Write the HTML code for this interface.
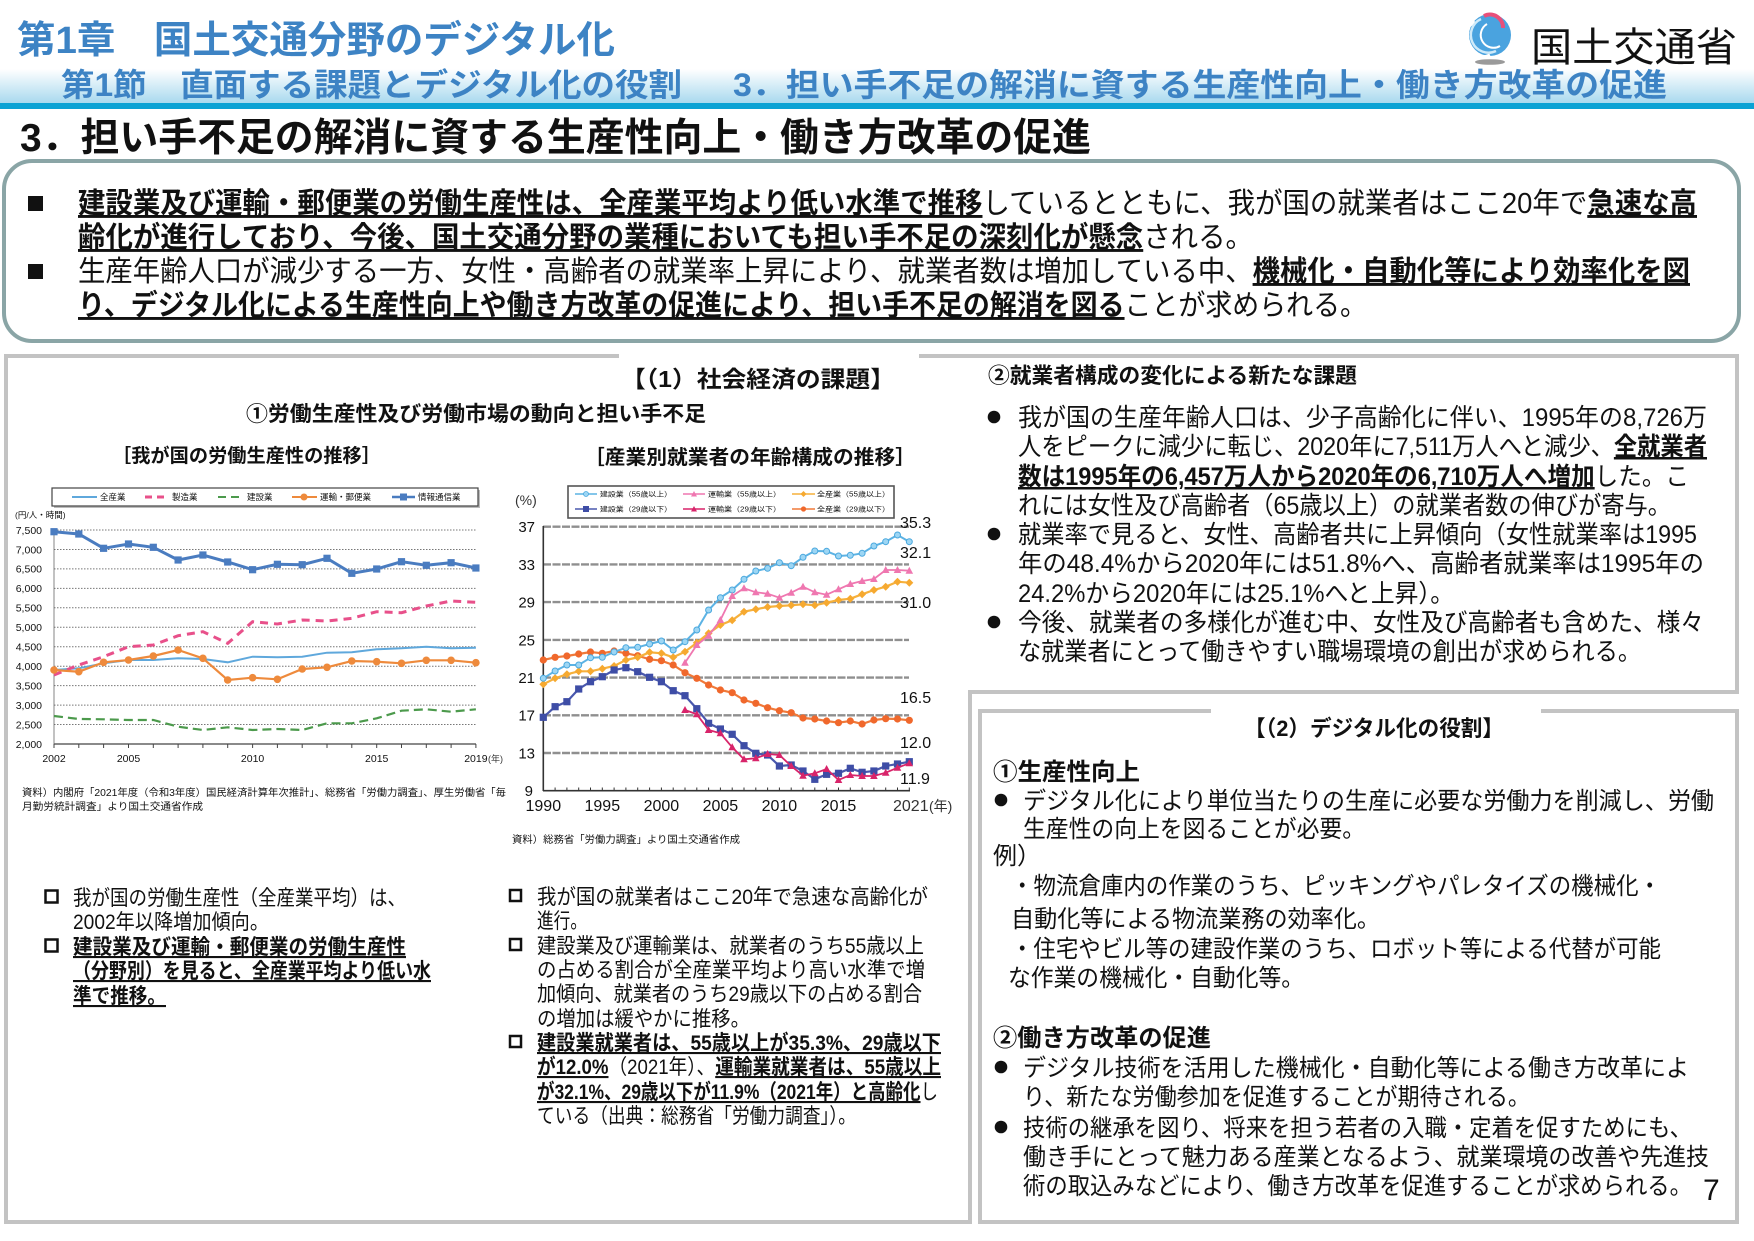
<!DOCTYPE html>
<html><head><meta charset="utf-8">
<style>
html,body{margin:0;padding:0;background:#fff;}
svg{display:block;}
text{font-family:"Liberation Sans","Noto Sans CJK JP",sans-serif;fill:#111;}
.b{font-weight:bold;}
.bu{font-weight:bold;text-decoration:underline;}
.hd{fill:#3d83c4;font-weight:bold;}
.ax{fill:#333;}
</style></head>
<body>
<svg width="1754" height="1241" viewBox="0 0 1754 1241" xmlns="http://www.w3.org/2000/svg">
<defs>
<linearGradient id="band" x1="0" y1="0" x2="0" y2="1">
<stop offset="0" stop-color="#ffffff"/><stop offset="1" stop-color="#a6d8ee"/>
</linearGradient>
<marker id="mSq1" viewBox="-5 -5 10 10" refX="0" refY="0" markerWidth="10" markerHeight="10" markerUnits="userSpaceOnUse"><rect x="-3.6" y="-3.6" width="7.2" height="7.2" fill="#4a7cc0"/></marker>
<marker id="mCi1" viewBox="-5 -5 10 10" refX="0" refY="0" markerWidth="10" markerHeight="10" markerUnits="userSpaceOnUse"><circle r="3.8" fill="#ee8a3c"/></marker>
<marker id="mC55" viewBox="-5 -5 10 10" refX="0" refY="0" markerWidth="10" markerHeight="10" markerUnits="userSpaceOnUse"><circle r="3" fill="#9dd6f4" stroke="#4aa8de" stroke-width="1"/></marker>
<marker id="mT55" viewBox="-5 -5 10 10" refX="0" refY="0" markerWidth="10" markerHeight="10" markerUnits="userSpaceOnUse"><path d="M0,-4 L3.8,3 L-3.8,3Z" fill="#ef77b0"/></marker>
<marker id="mA55" viewBox="-5 -5 10 10" refX="0" refY="0" markerWidth="10" markerHeight="10" markerUnits="userSpaceOnUse"><path d="M0,-4 L4,0 L0,4 L-4,0Z" fill="#f6a930"/></marker>
<marker id="mC29" viewBox="-5 -5 10 10" refX="0" refY="0" markerWidth="10" markerHeight="10" markerUnits="userSpaceOnUse"><rect x="-3.6" y="-3.6" width="7.2" height="7.2" fill="#3e4da6"/></marker>
<marker id="mT29" viewBox="-5 -5 10 10" refX="0" refY="0" markerWidth="10" markerHeight="10" markerUnits="userSpaceOnUse"><path d="M0,-4 L3.8,3 L-3.8,3Z" fill="#d8246a"/></marker>
<marker id="mA29" viewBox="-5 -5 10 10" refX="0" refY="0" markerWidth="10" markerHeight="10" markerUnits="userSpaceOnUse"><circle r="3.6" fill="#f0682c"/></marker>
</defs>

<!-- HEADER -->
<text x="17" y="53" font-size="38" class="hd" textLength="598" lengthAdjust="spacingAndGlyphs">第1章　国土交通分野のデジタル化</text>
<rect x="0" y="69" width="1754" height="35" fill="url(#band)"/>
<rect x="0" y="103" width="1754" height="6" fill="#0aa2d4"/>
<text x="61" y="96" font-size="32" class="hd" textLength="621" lengthAdjust="spacingAndGlyphs">第1節　直面する課題とデジタル化の役割</text>
<text x="733" y="96" font-size="32" class="hd" textLength="934" lengthAdjust="spacingAndGlyphs">3．担い手不足の解消に資する生産性向上・働き方改革の促進</text>

<!-- logo -->
<circle cx="1490" cy="35" r="21" fill="#4aa3df"/>
<path d="M1475,22 A18,18 0 0 0 1490,55" stroke="#ffffff" stroke-width="3" fill="none"/>
<path d="M1481,19 A15,15 0 0 0 1496,51" stroke="#cfeaf9" stroke-width="2.5" fill="none"/>
<path d="M1487,24 A10,10 0 0 0 1500,46" stroke="#ffffff" stroke-width="2" fill="none"/>
<path d="M1484,16 A13,13 0 0 1 1503,28" stroke="#e8507a" stroke-width="4" fill="none"/>
<ellipse cx="1490" cy="62" rx="15" ry="2.8" fill="#9a9a9a"/>
<text x="1531" y="61" font-size="40" textLength="206" lengthAdjust="spacingAndGlyphs" fill="#222">国土交通省</text>

<text x="20" y="151" font-size="39" class="b" textLength="1071" lengthAdjust="spacingAndGlyphs">3．担い手不足の解消に資する生産性向上・働き方改革の促進</text>

<!-- TOP BOX -->
<rect x="4" y="161" width="1735" height="180" rx="28" ry="28" fill="#fff" stroke="#8aa5a6" stroke-width="4"/>
<rect x="28" y="196" width="15" height="15" fill="#111"/>
<rect x="28" y="264" width="15" height="15" fill="#111"/>
<text x="78" y="213" font-size="29" textLength="1619" lengthAdjust="spacingAndGlyphs"><tspan class="bu">建設業及び運輸・郵便業の労働生産性は、全産業平均より低い水準で推移</tspan>しているとともに、我が国の就業者はここ20年で<tspan class="bu">急速な高</tspan></text>
<text x="78" y="247" font-size="29" textLength="1175" lengthAdjust="spacingAndGlyphs"><tspan class="bu">齢化が進行しており、今後、国土交通分野の業種においても担い手不足の深刻化が懸念</tspan>される。</text>
<text x="78" y="281" font-size="29" textLength="1612" lengthAdjust="spacingAndGlyphs">生産年齢人口が減少する一方、女性・高齢者の就業率上昇により、就業者数は増加している中、<tspan class="bu">機械化・自動化等により効率化を図</tspan></text>
<text x="78" y="315" font-size="29" textLength="1289" lengthAdjust="spacingAndGlyphs"><tspan class="bu">り、デジタル化による生産性向上や働き方改革の促進により、担い手不足の解消を図る</tspan>ことが求められる。</text>

<!-- PANEL BORDERS -->
<path d="M619,356 H6 V1222 H970 V692 H1737 V356 H919" fill="none" stroke="#c3c3c3" stroke-width="4"/>
<path d="M1211,711 H980 V1222 H1737 V711 H1541" fill="none" stroke="#c3c3c3" stroke-width="4"/>

<text x="621" y="387" font-size="23" class="b" textLength="274" lengthAdjust="spacingAndGlyphs">【（1）社会経済の課題】</text>
<text x="246" y="421" font-size="21" class="b" textLength="460" lengthAdjust="spacingAndGlyphs">①労働生産性及び労働市場の動向と担い手不足</text>
<text x="112" y="462" font-size="19" class="b" textLength="269" lengthAdjust="spacingAndGlyphs">［我が国の労働生産性の推移］</text>
<text x="584" y="464" font-size="20" class="b" textLength="332" lengthAdjust="spacingAndGlyphs">［産業別就業者の年齢構成の推移］</text>

<!-- CHART 1 -->
<rect x="54" y="490" width="426" height="18" fill="#bbb"/>
<rect x="52" y="488" width="426" height="18" fill="#fff" stroke="#444" stroke-width="1.2"/>
<line x1="72" y1="497" x2="97" y2="497" stroke="#5fa8dc" stroke-width="2"/>
<text x="100" y="500" font-size="8.5" fill="#444">全産業</text>
<line x1="145" y1="497" x2="168" y2="497" stroke="#e8508a" stroke-width="3" stroke-dasharray="7,5"/>
<text x="172" y="500" font-size="8.5" fill="#444">製造業</text>
<line x1="218" y1="497" x2="243" y2="497" stroke="#4c9a4c" stroke-width="2" stroke-dasharray="8,5"/>
<text x="247" y="500" font-size="8.5" fill="#444">建設業</text>
<line x1="292" y1="497" x2="317" y2="497" stroke="#ee8a3c" stroke-width="2"/>
<circle cx="304" cy="497" r="3.5" fill="#ee8a3c"/>
<text x="320" y="500" font-size="8.5" fill="#444">運輸・郵便業</text>
<line x1="392" y1="497" x2="415" y2="497" stroke="#4a7cc0" stroke-width="2.5"/>
<rect x="400" y="493.5" width="7" height="7" fill="#4a7cc0"/>
<text x="418" y="500" font-size="8.5" fill="#444">情報通信業</text>

<text x="15" y="518" font-size="8.5" fill="#444">(円/人・時間)</text>
<g stroke="#777" stroke-width="1" stroke-dasharray="1.5,1.5">
<line x1="54" y1="530" x2="476" y2="530"/><line x1="54" y1="549.5" x2="476" y2="549.5"/>
<line x1="54" y1="568.9" x2="476" y2="568.9"/><line x1="54" y1="588.4" x2="476" y2="588.4"/>
<line x1="54" y1="607.8" x2="476" y2="607.8"/><line x1="54" y1="627.3" x2="476" y2="627.3"/>
<line x1="54" y1="646.7" x2="476" y2="646.7"/><line x1="54" y1="666.2" x2="476" y2="666.2"/>
<line x1="54" y1="685.6" x2="476" y2="685.6"/><line x1="54" y1="705.1" x2="476" y2="705.1"/>
<line x1="54" y1="724.5" x2="476" y2="724.5"/>
</g>
<line x1="54" y1="744" x2="476" y2="744" stroke="#444" stroke-width="1.2"/>
<line x1="54" y1="530" x2="54" y2="744" stroke="#666" stroke-width="0.8"/>
<g stroke="#444" stroke-width="1">
<line x1="54" y1="744" x2="54" y2="748"/><line x1="78.8" y1="744" x2="78.8" y2="748"/><line x1="103.6" y1="744" x2="103.6" y2="748"/><line x1="128.5" y1="744" x2="128.5" y2="748"/><line x1="153.3" y1="744" x2="153.3" y2="748"/><line x1="178.1" y1="744" x2="178.1" y2="748"/><line x1="202.9" y1="744" x2="202.9" y2="748"/><line x1="227.7" y1="744" x2="227.7" y2="748"/><line x1="252.6" y1="744" x2="252.6" y2="748"/><line x1="277.4" y1="744" x2="277.4" y2="748"/><line x1="302.2" y1="744" x2="302.2" y2="748"/><line x1="327" y1="744" x2="327" y2="748"/><line x1="351.8" y1="744" x2="351.8" y2="748"/><line x1="376.7" y1="744" x2="376.7" y2="748"/><line x1="401.5" y1="744" x2="401.5" y2="748"/><line x1="426.3" y1="744" x2="426.3" y2="748"/><line x1="451.1" y1="744" x2="451.1" y2="748"/><line x1="475.9" y1="744" x2="475.9" y2="748"/>
</g>
<g font-size="10.5" text-anchor="end" class="ax">
<text x="42" y="534">7,500</text><text x="42" y="553.3">7,000</text><text x="42" y="572.7">6,500</text><text x="42" y="592.2">6,000</text><text x="42" y="611.6">5,500</text><text x="42" y="631.1">5,000</text><text x="42" y="650.5">4,500</text><text x="42" y="670">4,000</text><text x="42" y="689.4">3,500</text><text x="42" y="708.9">3,000</text><text x="42" y="728.3">2,500</text><text x="42" y="747.8">2,000</text>
</g>
<g font-size="10.5" text-anchor="middle" class="ax">
<text x="54" y="762">2002</text><text x="128.5" y="762">2005</text><text x="252.6" y="762">2010</text><text x="376.7" y="762">2015</text><text x="475.9" y="762">2019</text>
</g>
<text x="488" y="762" font-size="9" class="ax">(年)</text>

<polyline fill="none" stroke="#4c9a4c" stroke-width="2.2" stroke-dasharray="9,5" points="54,716 78.8,719 103.6,719.3 128.5,720 153.3,720 178.1,726.7 202.9,730 227.7,727.3 252.6,730 277.4,729 302.2,730 327,723.3 351.8,723.3 376.7,718.3 401.5,710.7 426.3,709.3 451.1,711.7 475.9,709.3"/>
<polyline fill="none" stroke="#5fa8dc" stroke-width="2" points="54,670 78.8,668.3 103.6,663.3 128.5,660 153.3,660 178.1,658.3 202.9,659 227.7,662.3 252.6,656.7 277.4,657.3 302.2,656.7 327,652.7 351.8,652.3 376.7,649.3 401.5,648.3 426.3,646.7 451.1,648.3 475.9,647.7"/>
<polyline fill="none" stroke="#e8508a" stroke-width="3" stroke-dasharray="8,6" points="54,675 78.8,665 103.6,656.7 128.5,646.7 153.3,645 178.1,635.7 202.9,631.7 227.7,643.3 252.6,621.7 277.4,624 302.2,620 327,621 351.8,618.3 376.7,611.7 401.5,612.7 426.3,606 451.1,601 475.9,602.3"/>
<polyline fill="none" stroke="#ee8a3c" stroke-width="2.2" marker-start="url(#mCi1)" marker-mid="url(#mCi1)" marker-end="url(#mCi1)" points="54,670 78.8,671.7 103.6,662.3 128.5,660 153.3,656 178.1,650 202.9,658.3 227.7,680 252.6,677.7 277.4,679.3 302.2,669 327,667.3 351.8,661 376.7,661.7 401.5,663.3 426.3,660.3 451.1,660.3 475.9,662.7"/>
<polyline fill="none" stroke="#4a7cc0" stroke-width="3" marker-start="url(#mSq1)" marker-mid="url(#mSq1)" marker-end="url(#mSq1)" points="54,531.7 78.8,534 103.6,548.3 128.5,544 153.3,547.3 178.1,560 202.9,555 227.7,562 252.6,569.7 277.4,564.3 302.2,564.7 327,558.3 351.8,573.3 376.7,569 401.5,561.7 426.3,565.3 451.1,562.7 475.9,568"/>

<text x="22" y="796" font-size="10" fill="#333" textLength="484" lengthAdjust="spacingAndGlyphs">資料）内閣府「2021年度（令和3年度）国民経済計算年次推計」、総務省「労働力調査」、厚生労働省「毎</text>
<text x="22" y="810" font-size="10" fill="#333" textLength="181" lengthAdjust="spacingAndGlyphs">月勤労統計調査」より国土交通省作成</text>

<!-- CHART 2 -->
<rect x="568" y="486" width="326" height="32" fill="#fff" stroke="#555" stroke-width="1.6"/>
<g font-size="7" fill="#555">
<line x1="575" y1="494" x2="597" y2="494" stroke="#5cb3e4" stroke-width="1.5"/><circle cx="586" cy="494" r="2.5" fill="#9dd6f4" stroke="#4aa8de" stroke-width="0.8"/>
<text x="600" y="496.5" textLength="72" lengthAdjust="spacingAndGlyphs">建設業（55歳以上）</text>
<line x1="683" y1="494" x2="705" y2="494" stroke="#ef77b0" stroke-width="1.5"/><path d="M694,491 L697,496.5 L691,496.5Z" fill="#ef77b0"/>
<text x="708" y="496.5" textLength="73" lengthAdjust="spacingAndGlyphs">運輸業（55歳以上）</text>
<line x1="792" y1="494" x2="815" y2="494" stroke="#f6b13c" stroke-width="1.5"/><path d="M803.5,491 L806.5,494 L803.5,497 L800.5,494Z" fill="#f6a930"/>
<text x="817" y="496.5" textLength="73" lengthAdjust="spacingAndGlyphs">全産業（55歳以上）</text>
<line x1="575" y1="509" x2="597" y2="509" stroke="#4a58ad" stroke-width="1.5"/><rect x="583" y="506" width="6" height="6" fill="#3e4da6"/>
<text x="600" y="511.5" textLength="72" lengthAdjust="spacingAndGlyphs">建設業（29歳以下）</text>
<line x1="683" y1="509" x2="705" y2="509" stroke="#d8246a" stroke-width="1.5"/><path d="M694,506 L697,511.5 L691,511.5Z" fill="#d8246a"/>
<text x="708" y="511.5" textLength="73" lengthAdjust="spacingAndGlyphs">運輸業（29歳以下）</text>
<line x1="792" y1="509" x2="815" y2="509" stroke="#f07a3a" stroke-width="1.5"/><circle cx="803.5" cy="509" r="2.6" fill="#f0682c"/>
<text x="817" y="511.5" textLength="73" lengthAdjust="spacingAndGlyphs">全産業（29歳以下）</text>
</g>

<text x="515" y="505" font-size="14" class="ax">(%)</text>
<g stroke="#8f8f8f" stroke-width="2.4" stroke-dasharray="8,1.5">
<line x1="543" y1="526.7" x2="909" y2="526.7"/><line x1="543" y1="564.4" x2="909" y2="564.4"/>
<line x1="543" y1="602.1" x2="909" y2="602.1"/><line x1="543" y1="639.9" x2="909" y2="639.9"/>
<line x1="543" y1="677.6" x2="909" y2="677.6"/><line x1="543" y1="715.3" x2="909" y2="715.3"/>
<line x1="543" y1="753" x2="909" y2="753"/>
</g>
<line x1="543" y1="790.7" x2="910" y2="790.7" stroke="#333" stroke-width="1.6"/>
<line x1="543.3" y1="526" x2="543.3" y2="791" stroke="#333" stroke-width="1.6"/>
<g stroke="#333" stroke-width="1">
<line x1="555.1" y1="787.5" x2="555.1" y2="790.7"/><line x1="566.9" y1="787.5" x2="566.9" y2="790.7"/><line x1="578.7" y1="787.5" x2="578.7" y2="790.7"/><line x1="590.5" y1="787.5" x2="590.5" y2="790.7"/><line x1="602.3" y1="787.5" x2="602.3" y2="790.7"/><line x1="614.1" y1="787.5" x2="614.1" y2="790.7"/><line x1="625.9" y1="787.5" x2="625.9" y2="790.7"/><line x1="637.7" y1="787.5" x2="637.7" y2="790.7"/><line x1="649.6" y1="787.5" x2="649.6" y2="790.7"/><line x1="661.4" y1="787.5" x2="661.4" y2="790.7"/><line x1="673.2" y1="787.5" x2="673.2" y2="790.7"/><line x1="685" y1="787.5" x2="685" y2="790.7"/><line x1="696.8" y1="787.5" x2="696.8" y2="790.7"/><line x1="708.6" y1="787.5" x2="708.6" y2="790.7"/><line x1="720.4" y1="787.5" x2="720.4" y2="790.7"/><line x1="732.2" y1="787.5" x2="732.2" y2="790.7"/><line x1="744" y1="787.5" x2="744" y2="790.7"/><line x1="755.8" y1="787.5" x2="755.8" y2="790.7"/><line x1="767.6" y1="787.5" x2="767.6" y2="790.7"/><line x1="779.4" y1="787.5" x2="779.4" y2="790.7"/><line x1="791.2" y1="787.5" x2="791.2" y2="790.7"/><line x1="803" y1="787.5" x2="803" y2="790.7"/><line x1="814.8" y1="787.5" x2="814.8" y2="790.7"/><line x1="826.6" y1="787.5" x2="826.6" y2="790.7"/><line x1="838.5" y1="787.5" x2="838.5" y2="790.7"/><line x1="850.3" y1="787.5" x2="850.3" y2="790.7"/><line x1="862.1" y1="787.5" x2="862.1" y2="790.7"/><line x1="873.9" y1="787.5" x2="873.9" y2="790.7"/><line x1="885.7" y1="787.5" x2="885.7" y2="790.7"/><line x1="897.5" y1="787.5" x2="897.5" y2="790.7"/><line x1="909.3" y1="787.5" x2="909.3" y2="790.7"/>
</g>
<g font-size="15" text-anchor="end" class="ax">
<text x="535" y="532">37</text><text x="535" y="569.8">33</text><text x="535" y="607.5">29</text><text x="535" y="645.3">25</text><text x="535" y="683">21</text><text x="535" y="720.7">17</text><text x="535" y="758.4">13</text><text x="533" y="796">9</text>
</g>
<g font-size="16" text-anchor="middle" class="ax">
<text x="543.3" y="811">1990</text><text x="602.3" y="811">1995</text><text x="661.4" y="811">2000</text><text x="720.4" y="811">2005</text><text x="779.4" y="811">2010</text><text x="838.5" y="811">2015</text>
</g>
<text x="893" y="811" font-size="16" class="ax">2021</text>
<text x="929" y="811" font-size="14" class="ax">(年)</text>
<g font-size="16" class="ax">
<text x="900" y="528">35.3</text><text x="900" y="558">32.1</text><text x="900" y="608">31.0</text><text x="900" y="703">16.5</text><text x="900" y="748">12.0</text><text x="900" y="784">11.9</text>
</g>

<polyline fill="none" stroke="#f07a3a" stroke-width="2.2" marker-start="url(#mA29)" marker-mid="url(#mA29)" marker-end="url(#mA29)" points="543.3,660 555.1,657.3 566.9,656 578.7,654 590.5,652 602.3,653.3 614.1,651 625.9,653.3 637.7,655.7 649.6,659.3 661.4,660.7 673.2,665 685,672.7 696.8,678.3 708.6,685 720.4,690 732.2,692.7 744,700 755.8,703.3 767.6,707.7 779.4,710.7 791.2,712.7 803,718 814.8,719 826.6,721 838.5,722.7 850.3,721 862.1,724 873.9,720 885.7,718.7 897.5,719 909.3,720.3"/>
<polyline fill="none" stroke="#f6b13c" stroke-width="2.2" marker-start="url(#mA55)" marker-mid="url(#mA55)" marker-end="url(#mA55)" points="543.3,684.3 555.1,678.3 566.9,674.3 578.7,671.3 590.5,671.3 602.3,668.7 614.1,666 625.9,660 637.7,657.3 649.6,652.3 661.4,653.3 673.2,657.3 685,651.7 696.8,642.7 708.6,633.3 720.4,625 732.2,620.3 744,611.7 755.8,609.3 767.6,607 779.4,606 791.2,605.3 803,604.3 814.8,605.3 826.6,602.7 838.5,600 850.3,598.7 862.1,594.3 873.9,590 885.7,586.7 897.5,581.7 909.3,582.7"/>
<polyline fill="none" stroke="#4a58ad" stroke-width="2.2" marker-start="url(#mC29)" marker-mid="url(#mC29)" marker-end="url(#mC29)" points="543.3,717.3 555.1,706.7 566.9,701.7 578.7,689 590.5,681.7 602.3,676.7 614.1,670 625.9,667.7 637.7,671.7 649.6,677.3 661.4,681.7 673.2,690.7 685,695.7 696.8,708.7 708.6,723.3 720.4,729 732.2,734.3 744,745.7 755.8,753.3 767.6,755 779.4,766 791.2,765 803,771 814.8,779.3 826.6,774.3 838.5,773.3 850.3,768.3 862.1,772.3 873.9,771 885.7,766 897.5,764 909.3,761.7"/>
<polyline fill="none" stroke="#d8246a" stroke-width="1.8" marker-start="url(#mT29)" marker-mid="url(#mT29)" marker-end="url(#mT29)" points="685,710 696.8,714.3 708.6,730 720.4,733.3 732.2,747.3 744,759.3 755.8,758.3 767.6,754 779.4,755 791.2,766 803,775.7 814.8,773.3 826.6,769 838.5,780 850.3,775 862.1,776 873.9,776 885.7,772.7 897.5,767.7 909.3,763.3"/>
<polyline fill="none" stroke="#5cb3e4" stroke-width="2" marker-start="url(#mC55)" marker-mid="url(#mC55)" marker-end="url(#mC55)" points="543.3,678.3 555.1,671 566.9,665 578.7,665 590.5,657.7 602.3,657.3 614.1,652 625.9,647.7 637.7,647.3 649.6,644 661.4,641 673.2,650 685,641.7 696.8,630 708.6,610 720.4,597.7 732.2,590 744,579.3 755.8,571 767.6,568.3 779.4,562.7 791.2,565.7 803,557.3 814.8,551 826.6,551.3 838.5,556 850.3,555.3 862.1,553.3 873.9,546 885.7,541.7 897.5,535 909.3,541.7"/>
<polyline fill="none" stroke="#ef77b0" stroke-width="1.8" marker-start="url(#mT55)" marker-mid="url(#mT55)" marker-end="url(#mT55)" points="685,662.7 696.8,645 708.6,635.7 720.4,620 732.2,596 744,588.3 755.8,592.3 767.6,593.7 779.4,597.7 791.2,592.7 803,586.7 814.8,592.3 826.6,594.7 838.5,589.3 850.3,584 862.1,581 873.9,579 885.7,570 897.5,570 909.3,570.7"/>

<text x="512" y="843" font-size="10" fill="#333" textLength="228" lengthAdjust="spacingAndGlyphs">資料）総務省「労働力調査」より国土交通省作成</text>

<!-- LEFT BOTTOM TEXT -->
<rect x="45.5" y="890.5" width="12" height="12" fill="none" stroke="#111" stroke-width="2.5"/>
<rect x="45.5" y="939.5" width="12" height="12" fill="none" stroke="#111" stroke-width="2.5"/>
<text x="73" y="905" font-size="21" textLength="333" lengthAdjust="spacingAndGlyphs">我が国の労働生産性（全産業平均）は、</text>
<text x="73" y="929" font-size="21" textLength="196" lengthAdjust="spacingAndGlyphs">2002年以降増加傾向。</text>
<text x="73" y="954" font-size="21" textLength="333" lengthAdjust="spacingAndGlyphs"><tspan class="bu">建設業及び運輸・郵便業の労働生産性</tspan></text>
<text x="73" y="978" font-size="21" textLength="358" lengthAdjust="spacingAndGlyphs"><tspan class="bu">（分野別）を見ると、全産業平均より低い水</tspan></text>
<text x="73" y="1003" font-size="21" textLength="93" lengthAdjust="spacingAndGlyphs"><tspan class="bu">準で推移。</tspan></text>

<rect x="510" y="890" width="11" height="11" fill="none" stroke="#111" stroke-width="2.5"/>
<rect x="510" y="939" width="11" height="11" fill="none" stroke="#111" stroke-width="2.5"/>
<rect x="510" y="1036" width="11" height="11" fill="none" stroke="#111" stroke-width="2.5"/>
<text x="537" y="904" font-size="21" textLength="391" lengthAdjust="spacingAndGlyphs">我が国の就業者はここ20年で急速な高齢化が</text>
<text x="537" y="928" font-size="21" textLength="50" lengthAdjust="spacingAndGlyphs">進行。</text>
<text x="537" y="953" font-size="21" textLength="387" lengthAdjust="spacingAndGlyphs">建設業及び運輸業は、就業者のうち55歳以上</text>
<text x="537" y="977" font-size="21" textLength="388" lengthAdjust="spacingAndGlyphs">の占める割合が全産業平均より高い水準で増</text>
<text x="537" y="1001" font-size="21" textLength="385" lengthAdjust="spacingAndGlyphs">加傾向、就業者のうち29歳以下の占める割合</text>
<text x="537" y="1026" font-size="21" textLength="213" lengthAdjust="spacingAndGlyphs">の増加は緩やかに推移。</text>
<text x="537" y="1050" font-size="21" textLength="404" lengthAdjust="spacingAndGlyphs"><tspan class="bu">建設業就業者は、55歳以上が35.3%、29歳以下</tspan></text>
<text x="537" y="1074" font-size="21" textLength="404" lengthAdjust="spacingAndGlyphs"><tspan class="bu">が12.0%</tspan>（2021年）、<tspan class="bu">運輸業就業者は、55歳以上</tspan></text>
<text x="537" y="1099" font-size="21" textLength="401" lengthAdjust="spacingAndGlyphs"><tspan class="bu">が32.1%、29歳以下が11.9%（2021年）と高齢化</tspan>し</text>
<text x="537" y="1123" font-size="21" textLength="319" lengthAdjust="spacingAndGlyphs">ている（出典：総務省「労働力調査」）。</text>

<!-- RIGHT UPPER -->
<text x="988" y="383" font-size="21.5" class="b" textLength="369" lengthAdjust="spacingAndGlyphs">②就業者構成の変化による新たな課題</text>
<circle cx="994" cy="417" r="6.3" fill="#111"/>
<circle cx="994" cy="534" r="6.3" fill="#111"/>
<circle cx="994" cy="622" r="6.3" fill="#111"/>
<text x="1018" y="426" font-size="25" textLength="689" lengthAdjust="spacingAndGlyphs">我が国の生産年齢人口は、少子高齢化に伴い、1995年の8,726万</text>
<text x="1018" y="455" font-size="25" textLength="689" lengthAdjust="spacingAndGlyphs">人をピークに減少に転じ、2020年に7,511万人へと減少、<tspan class="bu">全就業者</tspan></text>
<text x="1018" y="485" font-size="25" textLength="671" lengthAdjust="spacingAndGlyphs"><tspan class="bu">数は1995年の6,457万人から2020年の6,710万人へ増加</tspan>した。こ</text>
<text x="1018" y="514" font-size="25" textLength="653" lengthAdjust="spacingAndGlyphs">れには女性及び高齢者（65歳以上）の就業者数の伸びが寄与。</text>
<text x="1018" y="543" font-size="25" textLength="679" lengthAdjust="spacingAndGlyphs">就業率で見ると、女性、高齢者共に上昇傾向（女性就業率は1995</text>
<text x="1018" y="572" font-size="25" textLength="686" lengthAdjust="spacingAndGlyphs">年の48.4%から2020年には51.8%へ、高齢者就業率は1995年の</text>
<text x="1018" y="602" font-size="25" textLength="436" lengthAdjust="spacingAndGlyphs">24.2%から2020年には25.1%へと上昇）。</text>
<text x="1018" y="631" font-size="25" textLength="686" lengthAdjust="spacingAndGlyphs">今後、就業者の多様化が進む中、女性及び高齢者も含めた、様々</text>
<text x="1018" y="660" font-size="25" textLength="623" lengthAdjust="spacingAndGlyphs">な就業者にとって働きやすい職場環境の創出が求められる。</text>

<!-- PANEL 2 -->
<text x="1244" y="736" font-size="22" class="b" textLength="260" lengthAdjust="spacingAndGlyphs">【（2）デジタル化の役割】</text>
<text x="993" y="780" font-size="24" class="b" textLength="147" lengthAdjust="spacingAndGlyphs">①生産性向上</text>
<circle cx="1001" cy="800" r="6.3" fill="#111"/>
<text x="1023" y="809" font-size="24" textLength="691" lengthAdjust="spacingAndGlyphs">デジタル化により単位当たりの生産に必要な労働力を削減し、労働</text>
<text x="1023" y="837" font-size="24" textLength="342" lengthAdjust="spacingAndGlyphs">生産性の向上を図ることが必要。</text>
<text x="993" y="864" font-size="24">例）</text>
<text x="1011" y="894" font-size="24" textLength="650" lengthAdjust="spacingAndGlyphs">・物流倉庫内の作業のうち、ピッキングやパレタイズの機械化・</text>
<text x="1011" y="927" font-size="24" textLength="369" lengthAdjust="spacingAndGlyphs">自動化等による物流業務の効率化。</text>
<text x="1011" y="957" font-size="24" textLength="650" lengthAdjust="spacingAndGlyphs">・住宅やビル等の建設作業のうち、ロボット等による代替が可能</text>
<text x="1008" y="986" font-size="24" textLength="296" lengthAdjust="spacingAndGlyphs">な作業の機械化・自動化等。</text>
<text x="993" y="1046" font-size="24" class="b" textLength="218" lengthAdjust="spacingAndGlyphs">②働き方改革の促進</text>
<circle cx="1001" cy="1067" r="6.3" fill="#111"/>
<circle cx="1001" cy="1127" r="6.3" fill="#111"/>
<text x="1023" y="1076" font-size="24" textLength="666" lengthAdjust="spacingAndGlyphs">デジタル技術を活用した機械化・自動化等による働き方改革によ</text>
<text x="1023" y="1105" font-size="24" textLength="507" lengthAdjust="spacingAndGlyphs">り、新たな労働参加を促進することが期待される。</text>
<text x="1023" y="1136" font-size="24" textLength="669" lengthAdjust="spacingAndGlyphs">技術の継承を図り、将来を担う若者の入職・定着を促すためにも、</text>
<text x="1023" y="1165" font-size="24" textLength="686" lengthAdjust="spacingAndGlyphs">働き手にとって魅力ある産業となるよう、就業環境の改善や先進技</text>
<text x="1023" y="1194" font-size="24" textLength="669" lengthAdjust="spacingAndGlyphs">術の取込みなどにより、働き方改革を促進することが求められる。</text>
<text x="1703" y="1200" font-size="30">7</text>
</svg>
</body></html>
